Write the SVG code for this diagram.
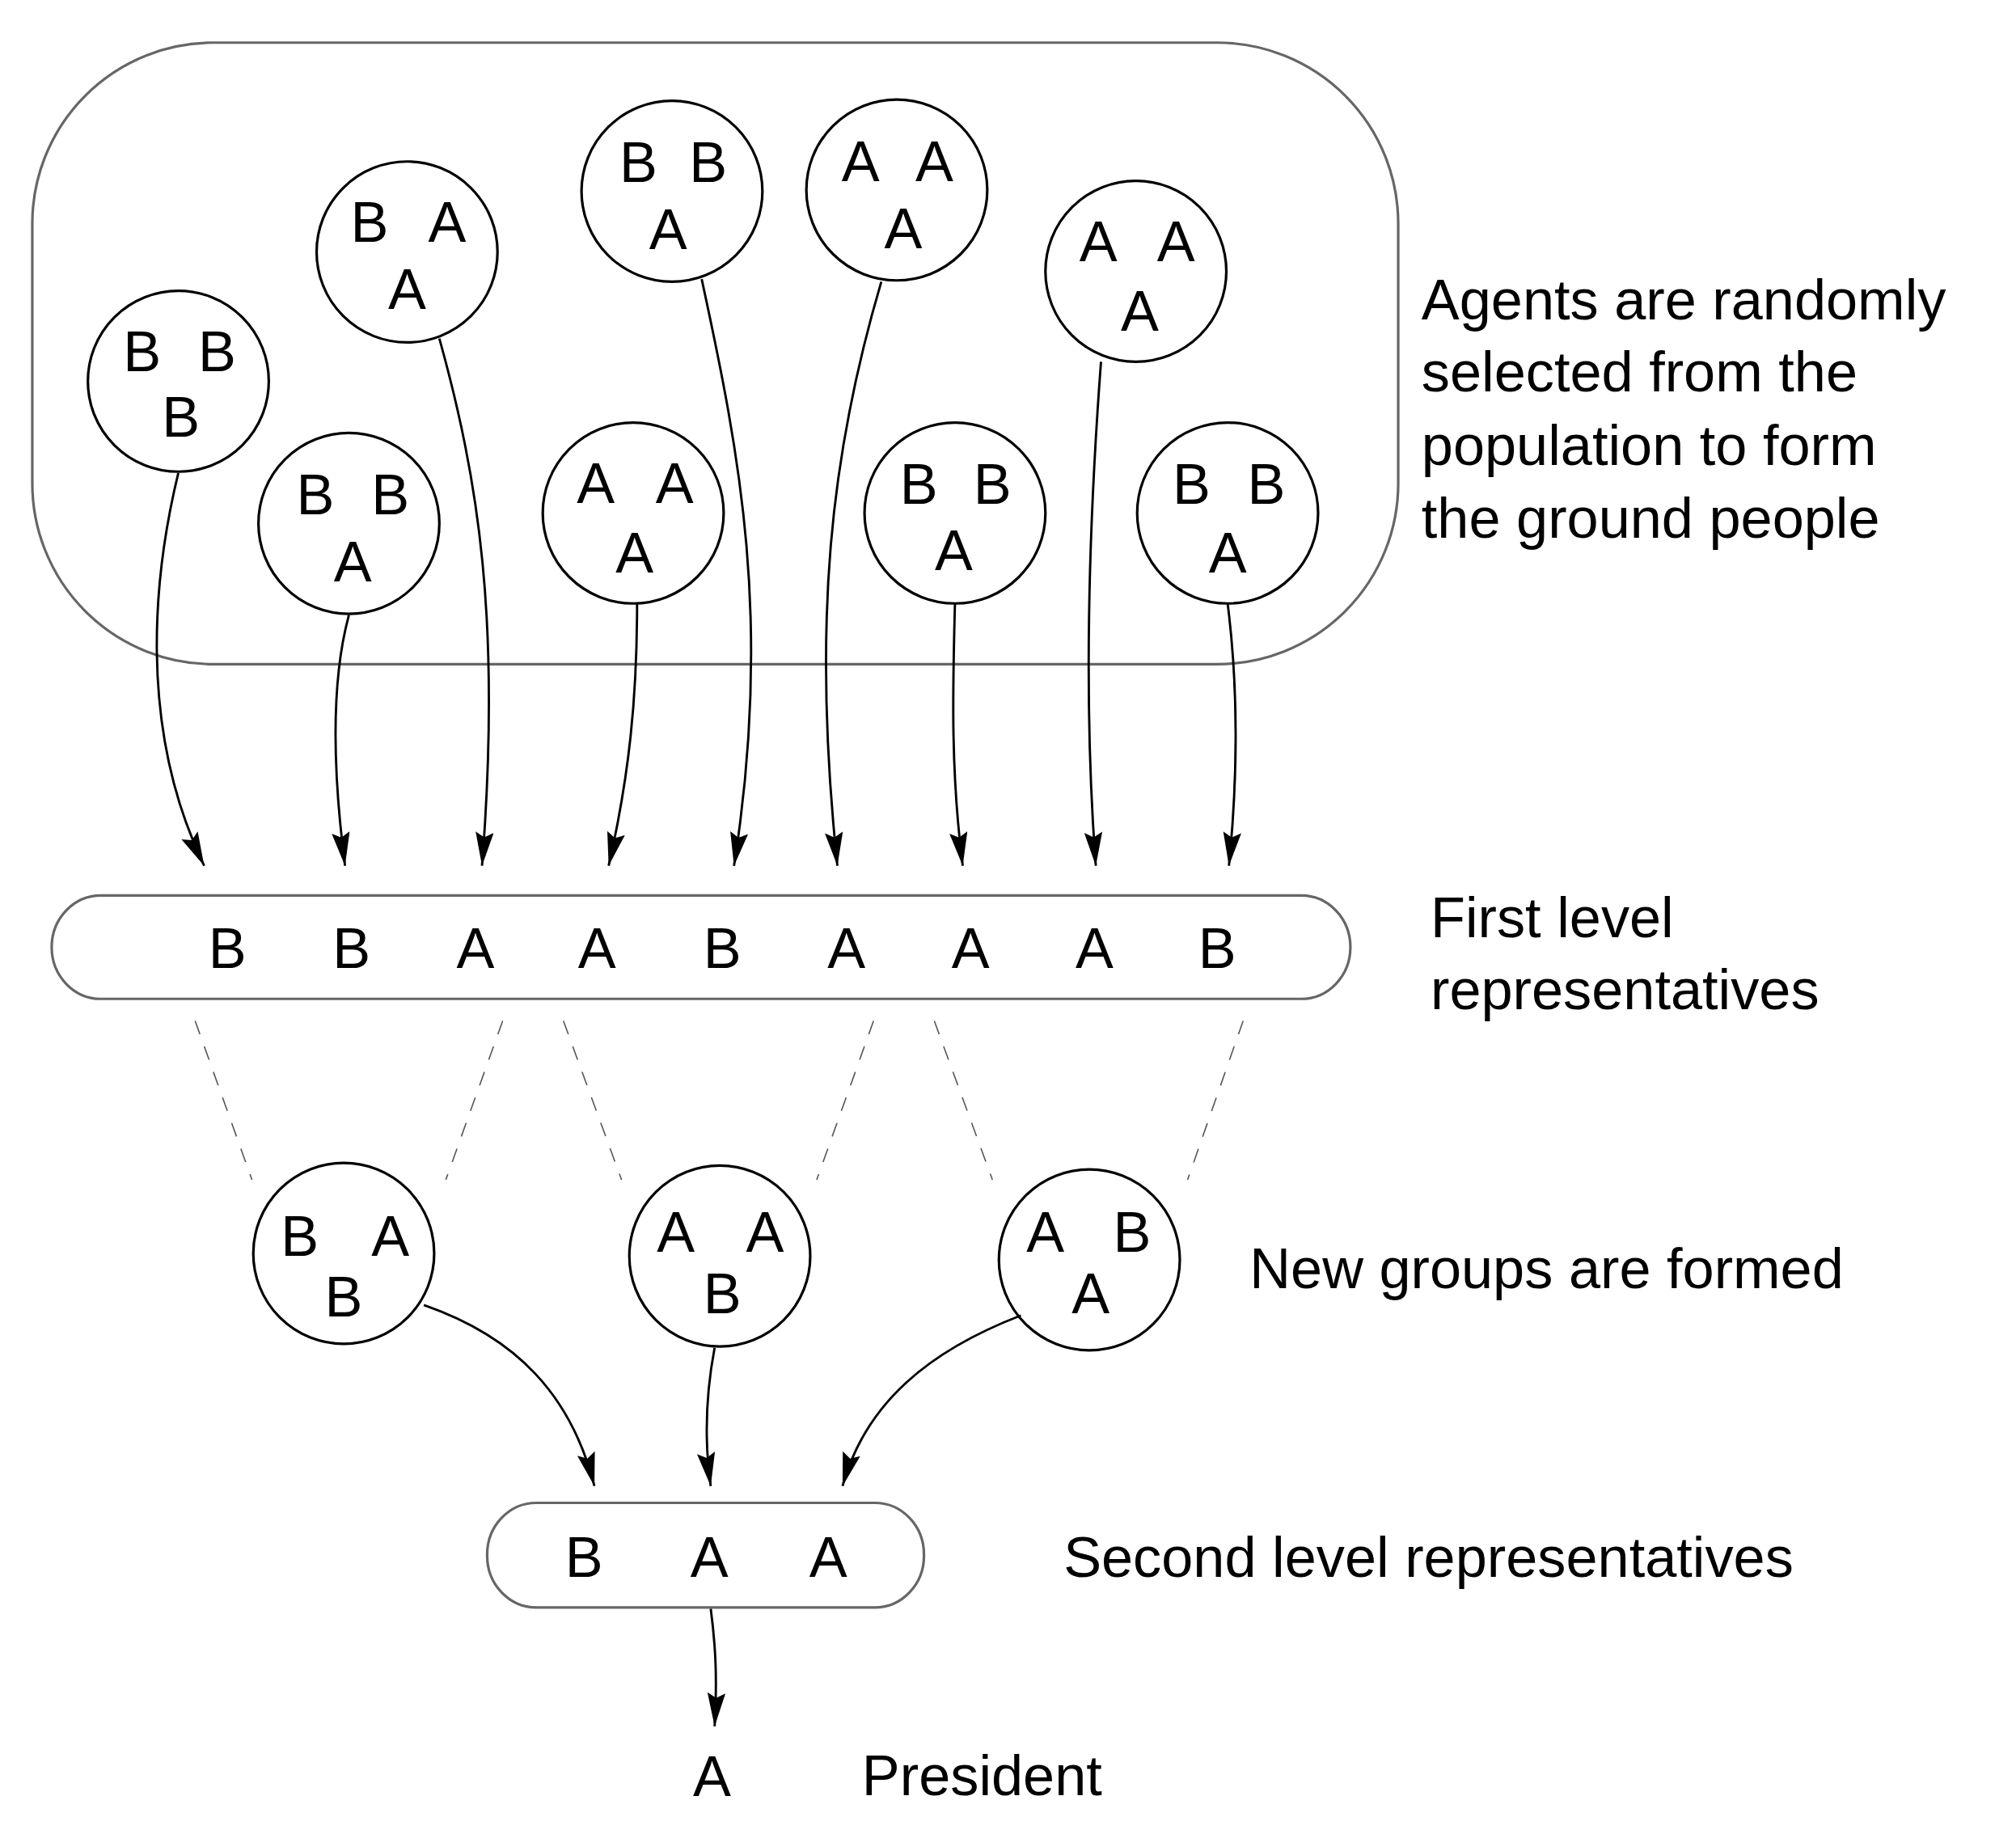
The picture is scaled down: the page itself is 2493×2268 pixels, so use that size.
<svg xmlns="http://www.w3.org/2000/svg" width="2493" height="2268" viewBox="0 0 2493 2268">
<defs>
<style>
text{font-family:"Liberation Sans","Noto Sans",Arial,sans-serif;font-size:44px;fill:#000}
.m{text-anchor:middle}
.circ{fill:#fff;stroke:#000;stroke-width:2}
.box{fill:#fff;stroke:#666;stroke-width:2}
.edge{fill:none;stroke:#000;stroke-width:1.8;marker-end:url(#ah)}
.dash{fill:none;stroke:#555;stroke-width:1;stroke-dasharray:11 10}
</style>
<marker id="ah" markerUnits="userSpaceOnUse" markerWidth="30" markerHeight="16" refX="26" refY="7" orient="auto">
<path d="M0,0 L26,7 L0,14 L4,7 z" fill="#000"/>
</marker>
</defs>
<rect width="2493" height="2268" fill="#fff"/>
<g transform="scale(1.598)">
<g id="population">
<rect class="box" x="25" y="33" width="1057" height="481" rx="140" ry="140"/>
</g>
<g id="g1"><circle class="circ" cx="138" cy="295" r="70"/><text class="m" x="110" y="287">B</text><text class="m" x="168" y="287">B</text><text class="m" x="140" y="338">B</text></g>
<g id="g2"><circle class="circ" cx="270" cy="405" r="70"/><text class="m" x="244" y="398">B</text><text class="m" x="302" y="398">B</text><text class="m" x="273" y="450">A</text></g>
<g id="g3"><circle class="circ" cx="315" cy="195" r="70"/><text class="m" x="286" y="187">B</text><text class="m" x="346" y="187">A</text><text class="m" x="315" y="239">A</text></g>
<g id="g4"><circle class="circ" cx="490" cy="397" r="70"/><text class="m" x="461" y="389">A</text><text class="m" x="522" y="389">A</text><text class="m" x="491" y="443">A</text></g>
<g id="g5"><circle class="circ" cx="520" cy="148" r="70"/><text class="m" x="494" y="141">B</text><text class="m" x="548" y="141">B</text><text class="m" x="517" y="193">A</text></g>
<g id="g6"><circle class="circ" cx="694" cy="147" r="70"/><text class="m" x="666" y="140">A</text><text class="m" x="723" y="140">A</text><text class="m" x="699" y="192">A</text></g>
<g id="g7"><circle class="circ" cx="739" cy="397" r="70"/><text class="m" x="711" y="390">B</text><text class="m" x="768" y="390">B</text><text class="m" x="738" y="441">A</text></g>
<g id="g8"><circle class="circ" cx="879" cy="210" r="70"/><text class="m" x="850" y="202">A</text><text class="m" x="910" y="202">A</text><text class="m" x="882" y="256">A</text></g>
<g id="g9"><circle class="circ" cx="950" cy="397" r="70"/><text class="m" x="922" y="390">B</text><text class="m" x="980" y="390">B</text><text class="m" x="950" y="443">A</text></g>

<g id="level1">
<rect class="box" x="40" y="693" width="1005" height="80" rx="38" ry="40"/>
<text class="m" x="176" y="749">B</text><text class="m" x="272" y="749">B</text><text class="m" x="368" y="749">A</text><text class="m" x="462" y="749">A</text><text class="m" x="559" y="749">B</text><text class="m" x="655" y="749">A</text><text class="m" x="751" y="749">A</text><text class="m" x="847" y="749">A</text><text class="m" x="942" y="749">B</text>
</g>

<g id="n1"><circle class="circ" cx="266" cy="970" r="70"/><text class="m" x="232" y="972">B</text><text class="m" x="302" y="972">A</text><text class="m" x="266" y="1019">B</text></g>
<g id="n2"><circle class="circ" cx="557" cy="972" r="70"/><text class="m" x="523" y="969">A</text><text class="m" x="592" y="969">A</text><text class="m" x="559" y="1016">B</text></g>
<g id="n3"><circle class="circ" cx="843" cy="975" r="70"/><text class="m" x="809" y="969">A</text><text class="m" x="876" y="969">B</text><text class="m" x="844" y="1016">A</text></g>

<g id="level2">
<rect class="box" x="377" y="1163" width="338" height="81" rx="38" ry="40"/>
<text class="m" x="452" y="1220">B</text><text class="m" x="549" y="1220">A</text><text class="m" x="641" y="1220">A</text>
</g>

<g id="president"><text class="m" x="551" y="1390">A</text></g>

<g id="labels">
<text x="1100" y="247">Agents are randomly</text>
<text x="1100" y="303">selected from the</text>
<text x="1100" y="360">population to form</text>
<text x="1100" y="416">the ground people</text>
<text x="1107" y="725">First level</text>
<text x="1107" y="781">representatives</text>
<text x="967" y="997">New groups are formed</text>
<text x="823" y="1220">Second level representatives</text>
<text x="667" y="1389">President</text>
</g>

<g id="connectors">
<path class="edge" d="M138,366 C120,440 105,560 158,670"/>
<path class="edge" d="M270,476 C258,520 256,585 267,670"/>
<path class="edge" d="M340,262 C370,370 388,480 373,670"/>
<path class="edge" d="M493,467 C493,540 487,600 471,670"/>
<path class="edge" d="M543,216 C572,350 598,480 568,670"/>
<path class="edge" d="M682,218 C643,350 628,480 648,670"/>
<path class="edge" d="M739,467 C737,540 736,600 745,670"/>
<path class="edge" d="M852,280 C843,400 838,540 848,670"/>
<path class="edge" d="M950,467 C958,530 958,600 951,670"/>
<path class="dash" d="M151,790 L195,913"/>
<path class="dash" d="M389,790 L345,913"/>
<path class="dash" d="M436,790 L481,913"/>
<path class="dash" d="M676,790 L632,913"/>
<path class="dash" d="M723,790 L768,913"/>
<path class="dash" d="M962,790 L919,913"/>
<path class="edge" d="M328,1010 C400,1035 442,1080 460,1150"/>
<path class="edge" d="M553,1043 C546,1080 545,1115 550,1150"/>
<path class="edge" d="M790,1018 C720,1045 670,1085 652,1150"/>
<path class="edge" d="M550,1245 C554,1275 555,1300 553,1336"/>
</g>
</g>
</svg>
